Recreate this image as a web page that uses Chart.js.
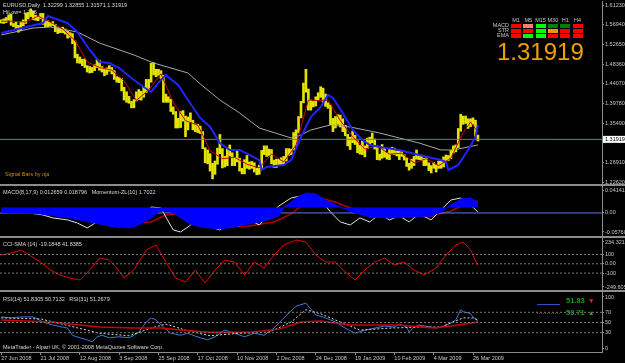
<!DOCTYPE html>
<html>
<head>
<meta charset="utf-8">
<script src="https://cdn.jsdelivr.net/npm/chart.js@4.4.0/dist/chart.umd.min.js"></script>
<style>
body { margin: 0; background: #000; }
#wrap { position: relative; width: 625px; height: 363px; background: #000; overflow: hidden; font-family: 'Liberation Sans', Arial, sans-serif; }
canvas { position: absolute; left: 0; }
.t { position: absolute; font-size: 5.5px; line-height: 1; color: #d8d8d8; white-space: nowrap; }
.sep { position: absolute; left: 0; width: 625px; height: 2px; background: #8c8c8c; }
.box { position: absolute; width: 10px; height: 3.5px; }
</style>
</head>
<body>
<div id="wrap">
  <canvas id="cMain" width="625" height="183" style="top:1px"></canvas>
  <canvas id="cMacd" width="625" height="50" style="top:186px"></canvas>
  <canvas id="cCci" width="625" height="52" style="top:238px"></canvas>
  <canvas id="cRsi" width="625" height="71" style="top:292px"></canvas>
  <div class="sep" style="top:184px"></div>
  <div class="sep" style="top:236px"></div>
  <div class="sep" style="top:290px"></div>

  <div class="t" style="left:3px;top:3px">EURUSD,Daily&nbsp; 1.32299 1.32855 1.31571 1.31919</div>
  <div class="t" style="left:3px;top:9.5px">HiLow= 1.336</div>
  <div class="t" style="left:5px;top:171.5px;color:#d08a00">Signal Bars by oja</div>
  <div class="t" style="left:3px;top:190px">MACD(8,17,9) 0.012659 0.018796&nbsp;&nbsp; Momentum-ZL(10) 1.7022</div>
  <div class="t" style="left:3px;top:242px">CCI-SMA (14) -19.1848 41.8385</div>
  <div class="t" style="left:3px;top:296.5px">RSI(14) 51.8305 50.7132&nbsp;&nbsp; RSI(31) 51.2679</div>
  <div class="t" style="left:3px;top:344.5px">MetaTrader - Alpari UK, © 2001-2008 MetaQuotes Software Corp.</div>
  <div id="signals"></div>
  <div style="position:absolute;left:497px;top:39.5px;font-size:24px;line-height:1;color:#f0a000">1.31919</div>

  <div style="position:absolute;left:537px;top:304px;width:23px;height:1px;background:#2f4fc0"></div>
  <div style="position:absolute;left:537px;top:313px;width:23px;border-top:1px dotted #d00000"></div>
  <div style="position:absolute;left:566px;top:297px;font-size:7.5px;font-weight:bold;line-height:1;color:#1f9a1f">51.83</div>
  <div style="position:absolute;left:588px;top:297.5px;font-size:6.5px;line-height:1;color:#ff2020">▼</div>
  <div style="position:absolute;left:566px;top:309px;font-size:7.5px;font-weight:bold;line-height:1;color:#1f9a1f">50.71</div>
  <div style="position:absolute;left:588px;top:309.5px;font-size:6.5px;line-height:1;color:#20b020">▲</div>
</div>
<script>
// bar index 0 = 27 Jun 2008 ... 194 = 30 Mar 2009 (daily bars)
var highs = [1.5800,
  1.5820, 1.5850, 1.5910, 1.5920, 1.5720,
  1.5750, 1.5680, 1.5760, 1.5800, 1.5950,
  1.5960, 1.6038, 1.5990, 1.5900, 1.5880,
  1.5940, 1.5940, 1.5800, 1.5780, 1.5740,
  1.5760, 1.5700, 1.5630, 1.5620, 1.5640,
  1.5600, 1.5550, 1.5520, 1.5500, 1.5340,
  1.5050, 1.4990, 1.4940, 1.4950, 1.4800,
  1.4780, 1.4760, 1.4820, 1.4940, 1.4910,
  1.4780, 1.4720, 1.4750, 1.4800, 1.4760,
  1.4690, 1.4560, 1.4540, 1.4520, 1.4330,
  1.4230, 1.4130, 1.4020, 1.4060, 1.4230,
  1.4280, 1.4240, 1.4340, 1.4500, 1.4500,
  1.4850, 1.4867, 1.4720, 1.4720, 1.4690,
  1.4590, 1.4180, 1.4120, 1.4070, 1.3900,
  1.3800, 1.3650, 1.3800, 1.3820, 1.3700,
  1.3680, 1.3770, 1.3610, 1.3530, 1.3520,
  1.3480, 1.3360, 1.3010, 1.2960, 1.2880,
  1.2670, 1.2720, 1.3000, 1.3300, 1.2990,
  1.2820, 1.3000, 1.3070, 1.2900, 1.2800,
  1.2960, 1.2780, 1.2560, 1.2750, 1.2840,
  1.2700, 1.2710, 1.2680, 1.2560, 1.2630,
  1.2950, 1.3050, 1.3050, 1.2980, 1.2970,
  1.2740, 1.2760, 1.2760, 1.2790, 1.2820,
  1.2990, 1.2990, 1.2980, 1.3340, 1.3400,
  1.3690, 1.4020, 1.4420, 1.4720, 1.4290,
  1.4050, 1.4020, 1.4120, 1.4210,
  1.4340, 1.4310, 1.4180, 1.3990,
  1.3940, 1.3650, 1.3690, 1.3730, 1.3720,
  1.3640, 1.3500, 1.3300, 1.3240, 1.3370,
  1.3280, 1.3160, 1.3060, 1.3160, 1.3050,
  1.3220, 1.3240, 1.3330, 1.3200, 1.3050,
  1.2870, 1.3080, 1.3020, 1.2900, 1.2980,
  1.3020, 1.3000, 1.2940, 1.2940, 1.2920,
  1.2860, 1.2790, 1.2670, 1.2760, 1.2820,
  1.2960, 1.2850, 1.2850, 1.2780, 1.2790,
  1.2680, 1.2620, 1.2690, 1.2640, 1.2720,
  1.2720, 1.2810, 1.2850, 1.2840, 1.2950,
  1.3050, 1.3070, 1.3430, 1.3740, 1.3700,
  1.3700, 1.3640, 1.3640, 1.3660, 1.3610,
  1.32855];
var lows = [1.5730,
  1.5720, 1.5740, 1.5790, 1.5680, 1.5650,
  1.5610, 1.5530, 1.5560, 1.5670, 1.5720,
  1.5820, 1.5870, 1.5800, 1.5790, 1.5780,
  1.5830, 1.5700, 1.5640, 1.5650, 1.5660,
  1.5670, 1.5540, 1.5500, 1.5520, 1.5520,
  1.5490, 1.5400, 1.5420, 1.5280, 1.4970,
  1.4860, 1.4850, 1.4800, 1.4760, 1.4660,
  1.4640, 1.4650, 1.4690, 1.4760, 1.4700,
  1.4660, 1.4580, 1.4610, 1.4680, 1.4620,
  1.4500, 1.4440, 1.4430, 1.4250, 1.4050,
  1.4000, 1.3980, 1.3880, 1.3880, 1.4030,
  1.4060, 1.4050, 1.4110, 1.4210, 1.4280,
  1.4440, 1.4600, 1.4560, 1.4590, 1.4520,
  1.4000, 1.4000, 1.4000, 1.3800, 1.3740,
  1.3440, 1.3440, 1.3450, 1.3590, 1.3250,
  1.3400, 1.3570, 1.3400, 1.3360, 1.3340,
  1.3320, 1.2990, 1.2680, 1.2660, 1.2500,
  1.2330, 1.2430, 1.2650, 1.2880, 1.2570,
  1.2590, 1.2620, 1.2830, 1.2620, 1.2620,
  1.2700, 1.2500, 1.2440, 1.2440, 1.2560,
  1.2540, 1.2560, 1.2480, 1.2420, 1.2430,
  1.2550, 1.2860, 1.2820, 1.2840, 1.2660,
  1.2580, 1.2580, 1.2620, 1.2630, 1.2650,
  1.2720, 1.2840, 1.2860, 1.2960, 1.3050,
  1.3340, 1.3660, 1.3990, 1.4220, 1.3830,
  1.3830, 1.3900, 1.3920, 1.4050,
  1.4110, 1.4000, 1.3910, 1.3870,
  1.3510, 1.3360, 1.3440, 1.3520, 1.3460,
  1.3360, 1.3270, 1.3050, 1.2970, 1.3120,
  1.3080, 1.2900, 1.2870, 1.2860, 1.2810,
  1.2990, 1.3070, 1.3120, 1.2980, 1.2750,
  1.2740, 1.2780, 1.2800, 1.2760, 1.2750,
  1.2870, 1.2860, 1.2830, 1.2750, 1.2820,
  1.2740, 1.2600, 1.2520, 1.2560, 1.2620,
  1.2760, 1.2750, 1.2730, 1.2620, 1.2620,
  1.2510, 1.2460, 1.2560, 1.2480, 1.2560,
  1.2560, 1.2590, 1.2720, 1.2730, 1.2770,
  1.2890, 1.2920, 1.3010, 1.3370, 1.3520,
  1.3540, 1.3430, 1.3470, 1.3520, 1.3260,
  1.31571];
var lastPrice = 1.31919;

// moving averages: [bar, price]
var blueMa = [[0,1.5512],[17,1.5730],[19,1.5883],[27,1.5730],[31,1.5534],[36,1.5142],[40,1.4880],[44,1.4858],
  [48,1.4749],[54,1.4487],[58,1.4335],[61,1.4226],[65,1.4487],[67,1.4596],[72,1.4378],[76,1.4051],[81,1.3659],
  [85,1.3462],[89,1.3113],[93,1.2961],[97,1.2961],[101,1.2852],[105,1.2742],[106,1.2524],[108,1.2590],[115,1.2633],
  [118,1.2742],[122,1.3244],[126,1.3680],[130,1.3898],[133,1.4160],[135,1.4095],[139,1.3768],[143,1.3397],
  [147,1.3179],[150,1.3070],[154,1.3026],[162,1.2961],[170,1.2852],[179,1.2742],[181,1.2699],[182,1.2524],
  [186,1.2633],[190,1.2961],[193,1.3244],[194,1.3506]];
var grayMa = [[0,1.5469],[13,1.5621],[20,1.5643],[31,1.5534],[40,1.5294],[54,1.5033],[62,1.4858],[76,1.4640],
  [81,1.4400],[89,1.4051],[97,1.3768],[105,1.3440],[118,1.3222],[122,1.3288],[126,1.3397],[134,1.3506],
  [142,1.3462],[154,1.3331],[162,1.3222],[170,1.3113],[179,1.2961],[184,1.2961],[190,1.3026],[194,1.3070]];
var redMa = [[0,1.577],[5,1.577],[10,1.575],[15,1.588],[20,1.575],[25,1.560],[30,1.535],[35,1.488],[40,1.476],
  [45,1.470],[50,1.447],[55,1.404],[60,1.427],[65,1.462],[70,1.400],[75,1.360],[80,1.350],[85,1.295],[90,1.277],
  [95,1.280],[100,1.265],[105,1.257],[110,1.287],[115,1.270],[120,1.307],[125,1.405],[129,1.404],[133,1.405],
  [138,1.360],[143,1.325],[148,1.298],[153,1.305],[158,1.287],[163,1.289],[168,1.268],[173,1.277],[178,1.262],
  [183,1.278],[188,1.334],[191,1.357],[194,1.335]];

// MACD window
var macdHist = [[0,-0.0127],[8,-0.0127],[16,-0.0151],[22,-0.0198],[28,-0.0245],[34,-0.0316],[40,-0.0387],[46,-0.0457],
  [52,-0.0481],[56,-0.0410],[61,-0.0245],[64,-0.0104],[67,-0.0057],[70,-0.0127],[73,-0.0245],[77,-0.0387],[81,-0.0457],
  [85,-0.0481],[89,-0.0504],[95,-0.0457],[101,-0.0387],[107,-0.0316],[113,-0.0198],[115,-0.0009],[120,0.0226],
  [124,0.0344],[128,0.0321],[132,0.0179],[138,0.0014],[144,-0.0127],[150,-0.0222],[158,-0.0245],[166,-0.0222],
  [175,-0.0198],[179,-0.0104],[183,0.0061],[187,0.0203],[191,0.0226],[194,0.0132]];
var macdSignal = [[0,-0.0057],[17,-0.0057],[27,-0.0127],[40,-0.0292],[54,-0.0363],[61,-0.0339],[67,-0.0174],[72,-0.0151],
  [81,-0.0387],[89,-0.0457],[101,-0.0434],[111,-0.0339],[118,-0.0151],[124,0.0132],[130,0.0226],[136,0.0132],
  [142,-0.0009],[150,-0.0151],[162,-0.0222],[175,-0.0198],[183,-0.0080],[189,0.0085],[194,0.0156]];
var momentum = [[0,-0.0127],[8,-0.0104],[17,-0.0174],[21,-0.0245],[27,-0.0292],[31,-0.0363],[35,-0.0481],[37,-0.0410],
  [40,-0.0292],[44,-0.0222],[48,-0.0363],[52,-0.0410],[56,-0.0292],[61,0.0014],[65,-0.0009],[67,-0.0222],[70,-0.0528],
  [73,-0.0575],[76,-0.0457],[80,-0.0292],[82,-0.0245],[85,-0.0457],[89,-0.0528],[93,-0.0339],[97,-0.0434],[101,-0.0292],
  [105,-0.0410],[109,-0.0174],[113,0.0038],[118,0.0226],[122,0.0273],[126,0.0061],[130,0.0179],[134,-0.0104],
  [138,-0.0339],[142,-0.0410],[146,-0.0245],[150,-0.0339],[154,-0.0151],[158,-0.0292],[162,-0.0198],[166,-0.0339],
  [170,-0.0151],[175,-0.0292],[179,-0.0057],[183,0.0179],[187,0.0226],[191,0.0061],[194,-0.0104]];
var momentumZero = -0.0127;

// CCI window
var cci = [[0,95],[4,116],[8,148],[12,84],[16,19],[20,-67],[24,-120],[28,-153],[32,-174],[36,-67],[40,62],[44,41],
  [46,-13],[50,-153],[54,-67],[59,148],[63,202],[67,19],[71,-153],[75,-196],[79,-67],[83,-206],[87,-67],[91,41],
  [95,19],[99,-120],[103,19],[107,-45],[111,95],[115,202],[120,256],[124,234],[128,95],[132,19],[136,19],[140,-88],
  [144,-174],[148,-67],[152,19],[156,62],[160,-13],[164,19],[168,-67],[172,-120],[177,-45],[181,95],[185,202],
  [188,234],[191,148],[194,-19]];
var cciLevels = [100, 0, -100];

// RSI window
var rsi14 = [[0,61],[4,59],[8,61],[13,61],[17,51],[21,45],[27,39],[29,25],[32,20],[35,16],[37,12],[39,22],[41,25],
  [44,20],[48,22],[52,20],[54,25],[56,31],[59,51],[61,59],[63,55],[66,41],[69,29],[73,25],[76,29],[78,25],[81,20],
  [84,16],[87,22],[91,35],[95,29],[99,22],[103,29],[107,25],[111,39],[115,59],[120,82],[124,88],[128,65],[132,59],
  [136,51],[140,39],[144,29],[148,35],[152,39],[156,43],[160,41],[162,47],[165,41],[166,31],[168,41],[170,45],
  [175,41],[177,39],[180,43],[183,49],[185,55],[187,75],[188,71],[190,69],[191,67],[192,61],[194,53]];
var rsiSignal = [[0,55],[20,51],[40,41],[54,39],[65,39],[74,35],[85,31],[101,31],[113,37],[122,51],[130,53],
  [142,45],[162,45],[176,39],[183,43],[194,51]];
var rsi31 = [[0,59],[16,57],[28,43],[40,29],[52,24],[61,39],[67,47],[75,35],[85,24],[97,29],[109,31],[118,51],
  [124,75],[130,67],[138,51],[146,35],[158,39],[170,41],[179,41],[183,49],[188,59],[192,59],[194,55]];
var rsiLevels = [70, 50, 30];

// axis ticks
var dateTickBars = [0, 16, 32, 48, 64, 80, 96, 112, 128, 144, 160, 176, 192];
var dateLabels = ['27 Jun 2008', '21 Jul 2008', '12 Aug 2008', '3 Sep 2008', '25 Sep 2008', '17 Oct 2008',
  '10 Nov 2008', '2 Dec 2008', '24 Dec 2008', '19 Jan 2009', '10 Feb 2009', '4 Mar 2009', '26 Mar 2009'];
var priceTicks = [1.61230, 1.56940, 1.52650, 1.48360, 1.44070, 1.39780, 1.35490, 1.26910, 1.22620];
var macdTicks = [0.04141, momentumZero, -0.05760];
var macdTickLabels = ['0.04141', '0.00', '-0.05760'];
var cciTicks = [234.3214, 100, 0, -100, -249.605];
var cciTickLabels = ['234.3214', '100', '0.00', '-100', '-249.605'];
var rsiTicks = [100, 70, 50, 30, 0];

// signal table, top right
var sigCols = ['M1', 'M5', 'M15', 'M30', 'H1', 'H4'];
var sigRows = ['MACD', 'STR', 'EMA'];
var sigColors = [
  ['#ff0000', '#ff7f6f', '#00ff00', '#008000', '#008000', '#ff0000'],
  ['#ff0000', '#ff0000', '#00ff00', '#e0a000', '#ff0000', '#ff0000'],
  ['#ff0000', '#00ff00', '#00ff00', '#ff0000', '#ff0000', '#ff0000']
];

var sig = document.getElementById('signals');
var html = '';
sigCols.forEach(function (c, i) {
  html += '<div class="t" style="left:' + (506 + 12.3 * i) + 'px;top:17.5px;width:20px;text-align:center;color:#c8c8c8">' + c + '</div>';
});
sigRows.forEach(function (r, j) {
  html += '<div class="t" style="left:480px;top:' + (23.3 + 5 * j) + 'px;width:29px;text-align:right;color:#c8c8c8">' + r + '</div>';
  sigColors[j].forEach(function (col, i) {
    html += '<div class="box" style="left:' + (511 + 12.3 * i) + 'px;top:' + (24 + 5 * j) + 'px;background:' + col + '"></div>';
  });
});
sig.innerHTML = html;

Chart.defaults.font.family = "'Liberation Sans', Arial, sans-serif";
Chart.defaults.font.size = 5.5;
Chart.defaults.color = '#c8c8c8';

var axisGray = '#8c8c8c';

function pts(pairs) {
  return pairs.map(function (p) { return {x: p[0], y: p[1]}; });
}
function level(v) {
  return [{x: -0.5, y: v}, {x: 244.5, y: v}];
}
function line(data, color, width, dash) {
  return {type: 'line', data: data, borderColor: color, borderWidth: width, borderDash: dash || [],
    pointRadius: 0, tension: 0, fill: false};
}

function xAxis(show) {
  return {
    type: 'linear', min: -0.5, max: 244.5, offset: false, display: show,
    afterFit: function (s) { s.height = show ? 11 : 0; s.paddingLeft = 0; s.paddingRight = 0; },
    afterBuildTicks: function (s) { s.ticks = dateTickBars.map(function (v) { return {value: v}; }); },
    ticks: {align: 'start', maxRotation: 0, autoSkip: false, padding: 0,
      callback: function (v, i) { return dateLabels[i]; }},
    grid: {drawOnChartArea: false, drawTicks: true, tickLength: 3, color: axisGray},
    border: {display: true, color: axisGray}
  };
}
function yAxis(min, max, vals, labels) {
  return {
    position: 'right', min: min, max: max,
    afterFit: function (s) { s.width = 23; s.paddingTop = 0; s.paddingBottom = 0; },
    afterBuildTicks: function (s) { s.ticks = vals.map(function (v) { return {value: v}; }); },
    ticks: {padding: 1, autoSkip: false, callback: function (v, i) { return labels[i]; }},
    grid: {drawOnChartArea: false, drawTicks: true, tickLength: 2, color: axisGray},
    border: {display: true, color: axisGray}
  };
}
function baseOptions(scales) {
  return {
    responsive: false, animation: false, devicePixelRatio: 1, events: [],
    layout: {padding: 0},
    plugins: {legend: {display: false}, tooltip: {enabled: false}},
    scales: scales
  };
}

// price label box on the axis
var priceBox = {
  id: 'priceBox',
  afterDraw: function (chart) {
    var c = chart.ctx;
    var y = chart.scales.y.getPixelForValue(lastPrice);
    c.save();
    c.fillStyle = '#ffffff';
    c.fillRect(chart.chartArea.right + 1, y - 3.5, 24, 7);
    c.fillStyle = '#000000';
    c.font = "5.5px 'Liberation Sans', Arial, sans-serif";
    c.textBaseline = 'middle';
    c.fillText(lastPrice.toFixed(5), chart.chartArea.right + 3, y + 0.5);
    c.restore();
  }
};

var candles = highs.map(function (h, i) { return {x: i, y: [lows[i], h]}; });

new Chart(document.getElementById('cMain'), {
  type: 'bar',
  data: {
    datasets: [
      {type: 'bar', data: candles, backgroundColor: '#e4e400', barThickness: 2, order: 5},
      Object.assign(line(pts(grayMa), '#a8a8a8', 1), {order: 4}),
      Object.assign(line(level(lastPrice), '#5a80a6', 1), {order: 3}),
      Object.assign(line(pts(redMa), '#d00000', 1), {order: 2}),
      Object.assign(line(pts(blueMa), '#2323ff', 2), {order: 1})
    ]
  },
  options: baseOptions({
    x: xAxis(false),
    y: yAxis(1.22184, 1.62103, priceTicks, priceTicks.map(function (v) { return v.toFixed(5); }))
  }),
  plugins: [priceBox]
});

new Chart(document.getElementById('cMacd'), {
  type: 'line',
  data: {
    datasets: [
      Object.assign(line(pts(macdHist), '#0000ff', 1), {fill: 'origin', backgroundColor: '#0000ff'}),
      line(level(momentumZero), '#5a78ff', 1),
      line(pts(momentum), '#e0e0e0', 1),
      line(pts(macdSignal), '#b00000', 1.5)
    ]
  },
  options: baseOptions({
    x: xAxis(false),
    y: yAxis(-0.06703, 0.05084, macdTicks, macdTickLabels)
  })
});

new Chart(document.getElementById('cCci'), {
  type: 'line',
  data: {
    datasets: cciLevels.map(function (v) { return line(level(v), '#7a7a7a', 1, [2, 2]); })
      .concat([line(pts(cci), '#e00000', 1)])
  },
  options: baseOptions({
    x: xAxis(false),
    y: yAxis(-281.87, 277.3, cciTicks, cciTickLabels)
  })
});

new Chart(document.getElementById('cRsi'), {
  type: 'line',
  data: {
    datasets: rsiLevels.map(function (v) { return line(level(v), '#7a7a7a', 1, [2, 2]); })
      .concat([
        line(pts(rsiSignal), '#d00000', 1.5),
        line(pts(rsi31), '#d8d8d8', 1, [2, 2]),
        line(pts(rsi14), '#3a7ad8', 1)
      ])
  },
  options: baseOptions({
    x: xAxis(true),
    y: yAxis(-7.84, 109.8, rsiTicks, rsiTicks.map(String))
  })
});
</script>
</body>
</html>
